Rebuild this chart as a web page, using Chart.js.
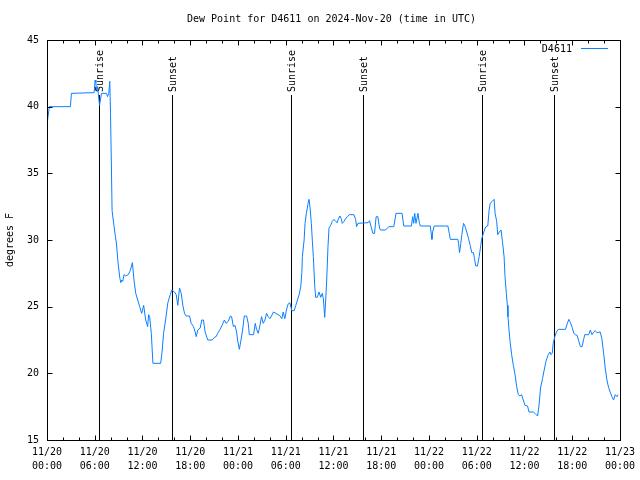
<!DOCTYPE html>
<html><head><meta charset="utf-8">
<script src="https://cdn.jsdelivr.net/npm/chart.js@4/dist/chart.umd.min.js"></script>
<style>html,body{margin:0;padding:0;background:#fff}</style>
</head><body>
<canvas id="c" width="640" height="480"></canvas>
<script>
const titleText = 'Dew Point for D4611 on 2024-Nov-20 (time in UTC)';
const seriesLabel = 'D4611';
const yAxisTitle = 'degrees F';
const xTickDays = ['11/20', '11/21', '11/22', '11/23'];

// hours since 2024-11-20 00:00 UTC
const hours = [0.05,0.30,2.94,3.07,5.92,6.05,6.14,6.22,6.35,6.51,6.60,6.85,7.48,7.60,7.76,7.89,7.98,8.08,8.18,8.43,
8.60,8.73,8.93,9.14,9.27,9.39,9.52,9.68,9.89,10.21,10.46,10.73,10.93,11.15,11.40,11.65,11.90,12.15,12.40,12.65,
12.77,12.90,13.11,13.31,14.28,14.44,14.65,14.90,15.19,15.49,15.69,16.03,16.24,16.44,16.65,16.87,17.07,17.28,17.49,17.91,
18.12,18.41,18.62,18.75,18.95,19.25,19.45,19.66,19.87,20.20,20.75,21.04,21.25,21.45,21.75,22.00,22.29,22.50,22.79,23.04,
23.20,23.42,23.63,23.83,23.95,24.17,24.38,24.58,24.79,25.08,25.29,25.42,25.96,26.17,26.33,26.55,26.76,26.96,27.17,27.39,
27.59,27.80,28.01,28.21,28.46,28.76,29.05,29.30,29.51,29.68,29.89,30.09,30.30,30.52,30.77,31.06,31.27,31.47,31.68,31.89,
32.02,32.09,32.31,32.43,32.59,32.81,32.93,33.06,33.22,33.35,33.47,33.65,33.77,33.97,34.19,34.40,34.60,34.73,34.90,35.02,
35.15,35.31,35.44,35.65,35.85,36.06,36.27,36.48,36.60,36.81,36.98,37.10,37.32,37.53,37.73,38.03,38.57,38.78,38.91,39.07,
40.36,40.53,40.73,40.95,41.16,41.36,41.57,41.79,41.91,42.54,42.95,43.58,43.86,44.62,44.83,45.79,45.96,46.08,46.21,46.37,
46.62,46.80,46.92,48.17,48.30,48.37,48.46,48.65,50.38,50.55,50.68,51.63,51.72,51.84,52.00,52.13,52.34,52.55,52.75,52.97,
53.18,53.38,53.60,53.72,53.88,54.09,54.31,54.51,54.63,54.85,55.06,55.26,55.39,55.56,55.69,55.97,56.19,56.31,56.51,56.64,
56.85,57.06,57.23,57.44,57.56,57.72,57.85,57.93,58.06,58.19,58.39,58.60,58.82,59.02,59.23,59.44,59.64,59.85,60.07,60.39,
60.57,61.11,61.32,61.65,61.82,62.02,62.27,62.48,62.70,62.99,63.20,63.32,63.49,63.61,63.82,64.02,64.24,65.15,65.36,65.58,
65.78,65.99,66.20,66.40,66.62,66.83,67.03,67.24,67.46,67.58,68.08,68.28,68.49,68.70,68.90,69.11,69.52,69.73,69.95,70.15,
70.36,70.57,70.77,70.99,71.20,71.40,71.62,71.75];

const dewF = [38.9,40.0,40.0,41.0,41.05,42.0,41.8,41.25,41.5,40.6,40.1,41.0,41.0,40.75,41.0,41.9,39.5,36.0,32.2,31.0,
30.25,29.7,28.3,27.2,26.8,27.0,26.9,27.4,27.3,27.4,27.7,28.3,27.0,26.0,25.5,25.0,24.5,25.1,24.0,23.5,
24.4,24.25,23.0,20.75,20.75,21.5,23.0,24.0,25.3,25.9,26.25,26.1,25.9,25.1,26.4,26.0,25.1,24.5,24.3,24.3,
23.75,23.5,23.1,22.75,23.25,23.4,24.0,24.0,23.1,22.5,22.5,22.7,22.75,23.0,23.3,23.6,24.0,23.75,23.9,24.3,
24.25,23.5,23.6,23.1,22.5,21.8,22.5,23.25,24.3,24.3,23.75,22.9,22.9,23.75,23.3,23.0,23.6,24.25,23.75,24.0,
24.5,24.25,24.1,24.3,24.6,24.5,24.4,24.3,24.1,24.6,24.1,24.75,25.2,25.3,24.7,24.7,25.1,25.5,25.9,26.5,
27.5,28.75,30.0,31.25,32.0,32.75,33.05,32.4,31.25,29.9,28.75,26.5,25.7,25.7,26.1,25.7,26.0,25.6,24.2,25.5,
27.0,29.5,30.9,31.1,31.4,31.55,31.4,31.3,31.55,31.8,31.6,31.25,31.4,31.6,31.75,31.9,31.9,31.55,31.0,31.25,
31.3,31.45,31.0,30.5,30.5,31.75,31.75,30.9,30.75,30.75,31.0,31.0,32.0,32.0,31.05,31.05,31.75,31.25,32.0,31.25,
32.0,31.25,31.05,31.05,30.4,30.05,30.6,31.05,31.05,30.5,30.05,30.05,29.75,29.05,29.75,30.4,31.25,31.0,30.6,30.1,
29.6,29.05,29.05,28.6,28.05,28.05,28.75,29.6,30.1,30.5,30.9,31.05,31.05,32.25,32.75,32.9,33.05,32.0,31.4,30.4,
30.6,30.75,29.9,28.75,27.25,26.0,25.1,24.25,23.25,22.4,21.4,20.6,19.9,19.0,18.4,18.3,18.4,18.0,17.6,17.55,
17.1,17.1,17.0,16.8,17.55,18.9,19.6,20.25,20.9,21.4,21.6,21.4,21.5,22.25,22.75,23.1,23.3,23.3,23.7,24.05,
23.8,23.45,23.0,22.9,22.85,22.4,22.0,22.0,22.6,22.9,22.9,23.25,22.9,23.1,23.2,23.05,23.1,22.6,21.5,20.4,
19.5,18.95,18.6,18.25,18.0,18.4,18.25,18.4];

const eventHours = [6.55, 15.69, 30.64, 39.74, 54.64, 63.70];
const eventLabels = ['Sunrise', 'Sunset', 'Sunrise', 'Sunset', 'Sunrise', 'Sunset'];

const FONT = "'DejaVu Sans Mono', monospace";
const LINE_COLOR = '#0a7fff';

function pad2(n) { return (n < 10 ? '0' : '') + n; }

const deco = {
  id: 'deco',
  beforeDatasetsDraw(chart) {
    const ctx = chart.ctx, a = chart.chartArea, xs = chart.scales.x;
    ctx.save();
    ctx.strokeStyle = '#000';
    ctx.lineWidth = 1;
    ctx.fillStyle = '#000';
    ctx.font = '10px ' + FONT;
    eventHours.forEach((h, i) => {
      const px = Math.round(xs.getPixelForValue(h)) + 0.5;
      ctx.beginPath();
      ctx.moveTo(px, a.top + 55);
      ctx.lineTo(px, a.bottom);
      ctx.stroke();
      ctx.save();
      ctx.translate(px + 1, a.top + 52);
      ctx.rotate(-Math.PI / 2);
      ctx.textAlign = 'left';
      ctx.textBaseline = 'middle';
      ctx.fillText(eventLabels[i], 0, 0);
      ctx.restore();
    });
    ctx.restore();
  },
  afterDraw(chart) {
    const ctx = chart.ctx, a = chart.chartArea, xs = chart.scales.x, ys = chart.scales.y;
    ctx.save();
    ctx.strokeStyle = '#000';
    ctx.lineWidth = 1;
    const L = Math.round(a.left) + 0.5, R = Math.round(a.right) + 0.5;
    const T = Math.round(a.top) + 0.5, B = Math.round(a.bottom) + 0.5;
    ctx.strokeRect(L, T, R - L, B - T);
    ctx.beginPath();
    for (let h = 0; h <= 72; h += 2) {
      const px = Math.round(xs.getPixelForValue(h)) + 0.5;
      const len = (h % 6 === 0) ? 5 : 3;
      ctx.moveTo(px, B); ctx.lineTo(px, B - len);
      ctx.moveTo(px, T); ctx.lineTo(px, T + len);
    }
    for (let v = 15; v <= 45; v += 5) {
      const py = Math.round(ys.getPixelForValue(v)) + 0.5;
      ctx.moveTo(L, py); ctx.lineTo(L + 5, py);
      ctx.moveTo(R, py); ctx.lineTo(R - 5, py);
    }
    ctx.stroke();
    // title
    ctx.fillStyle = '#000';
    ctx.font = '10px ' + FONT;
    ctx.textAlign = 'center';
    ctx.textBaseline = 'middle';
    ctx.fillText(titleText, (a.left + a.right) / 2 - 2, 19);
    // legend
    ctx.textAlign = 'right';
    ctx.fillText(chart.data.datasets[0].label, a.right - 48, a.top + 9);
    ctx.strokeStyle = LINE_COLOR;
    ctx.beginPath();
    ctx.moveTo(a.right - 39, a.top + 8.5);
    ctx.lineTo(a.right - 12, a.top + 8.5);
    ctx.stroke();
    ctx.restore();
  }
};

new Chart(document.getElementById('c'), {
  type: 'line',
  data: {
    datasets: [{
      label: seriesLabel,
      data: hours.map((h, i) => ({ x: h, y: dewF[i] })),
      borderColor: LINE_COLOR,
      borderWidth: 1,
      pointRadius: 0,
      tension: 0,
      fill: false
    }]
  },
  options: {
    responsive: false,
    animation: false,
    devicePixelRatio: 1,
    layout: { padding: { top: 40, right: 18, left: 0, bottom: 0 } },
    plugins: { legend: { display: false }, title: { display: false }, tooltip: { enabled: false } },
    scales: {
      x: {
        type: 'linear', min: 0, max: 72,
        ticks: {
          stepSize: 6, autoSkip: false, maxRotation: 0, padding: 5, color: '#000',
          font: { family: FONT, size: 10, lineHeight: 1.4 },
          callback: (v) => [xTickDays[Math.floor(v / 24)], pad2(v % 24) + ':00']
        },
        grid: { display: false, drawTicks: false },
        border: { display: false },
        afterFit: (s) => { s.height = 40; }
      },
      y: {
        min: 15, max: 45,
        ticks: { stepSize: 5, padding: 8, color: '#000', font: { family: FONT, size: 10 } },
        grid: { display: false, drawTicks: false },
        border: { display: false },
        title: { display: true, text: yAxisTitle, color: '#000', font: { family: FONT, size: 10 }, padding: { top: 4, bottom: 0 } },
        afterFit: (s) => { s.width = 47; }
      }
    }
  },
  plugins: [deco]
});
</script>
</body></html>
